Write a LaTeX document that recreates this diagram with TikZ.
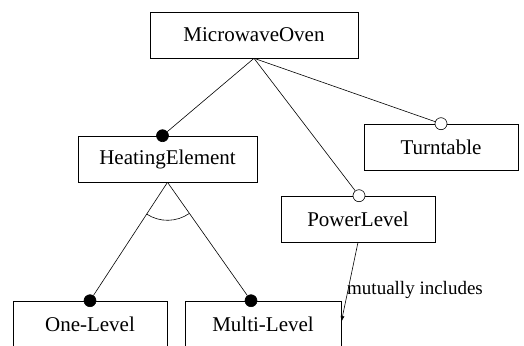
\documentclass[tikz,border=0pt]{standalone}
\usepackage{fontspec}
\setmainfont{Liberation Serif}
\usetikzlibrary{positioning,arrows.meta}
\tikzset{
  feature/.style={draw, line width=0.6pt, minimum height=46pt, inner sep=0pt, font=\fontsize{21}{24}\selectfont},
  mandatory/.style={circle, draw, fill=black, line width=0.6pt, minimum size=12pt, inner sep=0pt},
  optional/.style={circle, draw, fill=white, line width=0.6pt, minimum size=12pt, inner sep=0pt},
  link/.style={line width=0.6pt},
}
\begin{document}
\begin{tikzpicture}[x=1pt,y=1pt]
  \useasboundingbox (0,0) rectangle (524,-345);
  \clip (0,0) rectangle (524,-345);

  % features
  \node[feature, minimum width=208pt] (oven) at (254,-35) {MicrowaveOven};
  \node[feature, minimum width=179pt] (heat) at (167.5,-159) {HeatingElement};
  \node[feature, minimum width=154pt] (turn) at (441,-147) {Turntable};
  \node[feature, minimum width=154pt] (power) at (358,-219) {PowerLevel};
  \node[feature, minimum width=154pt] (one) at (90,-324) {One-Level};
  \node[feature, minimum width=156pt] (multi) at (263,-324) {Multi-Level};

  % mandatory / optional markers
  \node[mandatory] (heatdot) at ([xshift=-5pt]heat.north) {};
  \node[optional] (turndot) at (turn.north) {};
  \node[optional] (powerdot) at ([xshift=1pt]power.north) {};
  \node[mandatory] (onedot) at (one.north) {};
  \node[mandatory] (multidot) at ([xshift=-12pt]multi.north) {};

  % decomposition
  \draw[link] (oven.south) -- (heatdot);
  \draw[link] (oven.south) -- (powerdot);
  \draw[link] (oven.south) -- (turndot);
  \draw[link] (heat.south) -- (onedot);
  \draw[link] (heat.south) -- (multidot);
  \draw[link] ([shift={(237:38)}]heat.south) arc[start angle=237, end angle=305, radius=38];

  % constraint
  \coordinate (incl) at ([yshift=2pt]multi.east);
  \draw[link, -{Latex[length=6pt,width=4pt]}] (power.south) -- (incl);
  \node[anchor=west, inner sep=0pt, font=\fontsize{19}{22}\selectfont] (incllabel) at (347,-290) {mutually includes};
\end{tikzpicture}
\end{document}
